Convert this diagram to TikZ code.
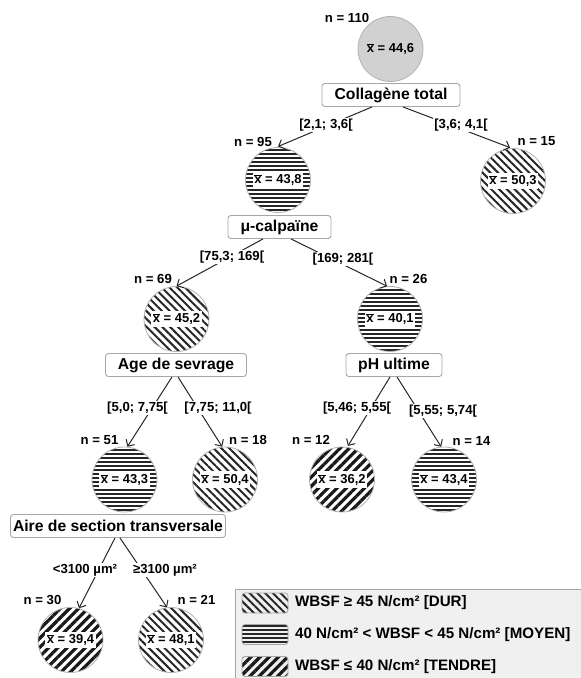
\documentclass[tikz,border=0pt]{standalone}
\usepackage{fontspec}
\setmainfont{Liberation Sans}
\usetikzlibrary{patterns.meta,arrows.meta,calc}
\newcommand\myxbar{$\overline{\mbox{x}}$}
\tikzset{
  pdur/.style={pattern={Lines[angle=-45,distance=5.5bp,line width=2bp]}, pattern color=black!85},
  pmoyen/.style={pattern={Lines[angle=0,distance=4bp,line width=2bp]}, pattern color=black!85},
  ptendre/.style={pattern={Lines[angle=45,distance=6.5bp,line width=3.2bp]}, pattern color=black!90},
  leaf/.style={circle, draw=gray!60, line width=0.8bp, minimum size=65bp, inner sep=0pt},
  val/.style={fill=white, font=\fontsize{13}{14}\selectfont\bfseries, inner xsep=1.5bp, inner ysep=2.5bp},
  lbl/.style={font=\fontsize{13.2}{14}\selectfont\bfseries, inner sep=1bp},
  elbl/.style={lbl, fill=white},
  varbox/.style={draw=gray!70, rounded corners=3bp, fill=white, line width=0.9bp,
    font=\fontsize{15.8}{17}\selectfont\bfseries, minimum height=23bp, inner xsep=2bp, inner ysep=0bp},
  arr/.style={draw=black!85, line width=1bp, -{Straight Barb[length=5bp,width=10bp]}},
  swatch/.style={draw=gray!70, rounded corners=3bp, line width=0.8bp, minimum width=46bp, minimum height=20bp, inner sep=0pt},
  legtxt/.style={anchor=west, font=\fontsize{15.2}{16}\selectfont\bfseries, inner sep=0pt},
}
\begin{document}
\begin{tikzpicture}[x=1bp,y=-1bp]
\useasboundingbox (0,0) rectangle (581,678);
% root
\node[leaf, fill=black!18] (c0) at (390.5,49) {};
\node[val, fill=none] (v0) at (c0) {\myxbar{} = 44,6};
\node[lbl] (n0) at (347,18) {n = 110};
\node[varbox, minimum width=138bp] (b0) at (391,95) {Collagène total};
% level 1
\node[leaf, pmoyen] (c1) at (278,180) {};
\node[val] (v1) at (c1) {\myxbar{} = 43,8};
\node[lbl] (n1) at (253,142) {n = 95};
\node[leaf, pdur] (c2) at (513,181) {};
\node[val] (v2) at (c2) {\myxbar{} = 50,3};
\node[lbl] (n2) at (536.5,141) {n = 15};
\draw[arr] ($(b0.south)+(-19,0)$) -- (c1.north);
\draw[arr] ($(b0.south)+(12,0)$) -- (c2.95);
\node[elbl] (e1) at (326,125) {[2,1; 3,6[};
\node[elbl] (e2) at (461,125) {[3,6; 4,1[};
\node[varbox, minimum width=103bp] (b1) at (279.5,227) {μ-calpaïne};
% level 2
\node[leaf, pdur] (c3) at (176.5,319) {};
\node[val] (v3) at (c3) {\myxbar{} = 45,2};
\node[lbl] (n3) at (153,279) {n = 69};
\node[leaf, pmoyen] (c4) at (390,319) {};
\node[val] (v4) at (c4) {\myxbar{} = 40,1};
\node[lbl] (n4) at (408.5,279) {n = 26};
\draw[arr] ($(b1.south)+(-16.5,0)$) -- (c3.north);
\draw[arr] ($(b1.south)+(11.5,0)$) -- (c4.95);
\node[elbl] (e3) at (232,257) {[75,3; 169[};
\node[elbl] (e4) at (343,259) {[169; 281[};
\node[varbox, minimum width=141bp] (b2) at (176,365) {Age de sevrage};
\node[varbox, minimum width=96bp] (b3) at (394,365) {pH ultime};
% level 3
\node[leaf, pmoyen] (c5) at (124.5,479.5) {};
\node[val] (v5) at (c5) {\myxbar{} = 43,3};
\node[lbl] (n5) at (99.5,440) {n = 51};
\node[leaf, pdur] (c6) at (225,479.5) {};
\node[val] (v6) at (c6) {\myxbar{} = 50,4};
\node[lbl] (n6) at (248,440) {n = 18};
\node[leaf, ptendre] (c7) at (342,479.5) {};
\node[val] (v7) at (c7) {\myxbar{} = 36,2};
\node[lbl] (n7) at (311,440) {n = 12};
\node[leaf, pmoyen] (c8) at (444,479.5) {};
\node[val] (v8) at (c8) {\myxbar{} = 43,4};
\node[lbl] (n8) at (471.5,441) {n = 14};
\draw[arr] ($(b2.south)+(-4,0)$) -- (c5.85);
\draw[arr] ($(b2.south)+(2,0)$) -- (c6.95);
\draw[arr] ($(b3.south)+(-4,0)$) -- (c7.80);
\draw[arr] ($(b3.south)+(3,0)$) -- (c8.95);
\node[elbl] (e5) at (137.5,408) {[5,0; 7,75[};
\node[elbl] (e6) at (218,408) {[7,75; 11,0[};
\node[elbl] (e7) at (357,408) {[5,46; 5,55[};
\node[elbl] (e8) at (443,411) {[5,55; 5,74[};
\node[varbox, minimum width=215bp] (b4) at (118,526) {Aire de section transversale};
% level 4
\node[leaf, ptendre] (c9) at (70.5,640) {};
\node[val] (v9) at (c9) {\myxbar{} = 39,4};
\node[lbl] (n9) at (42.5,600) {n = 30};
\node[leaf, pdur] (c10) at (171,640) {};
\node[val] (v10) at (c10) {\myxbar{} = 48,1};
\node[lbl] (n10) at (196.5,600) {n = 21};
\draw[arr] ($(b4.south)+(-3,0)$) -- (c9.75);
\draw[arr] ($(b4.south)+(2,0)$) -- (c10.97);
\node[elbl] (e9) at (85,570) {<3100 µm²};
\node[elbl] (e10) at (165,570) {≥3100 µm²};
% legend
\draw[draw=gray!70, fill=black!6, line width=0.9bp] (235,589) rectangle (590,690);
\node[swatch, pdur] (s1) at (265,603) {};
\node[swatch, pmoyen] (s2) at (265,634.5) {};
\node[swatch, ptendre] (s3) at (265,666.5) {};
\node[legtxt] (t1) at (295,603) {WBSF ≥ 45 N/cm² [DUR]};
\node[legtxt] (t2) at (295,634.5) {40 N/cm² < WBSF < 45 N/cm² [MOYEN]};
\node[legtxt] (t3) at (295,666.5) {WBSF ≤ 40 N/cm² [TENDRE]};
\end{tikzpicture}
\end{document}
